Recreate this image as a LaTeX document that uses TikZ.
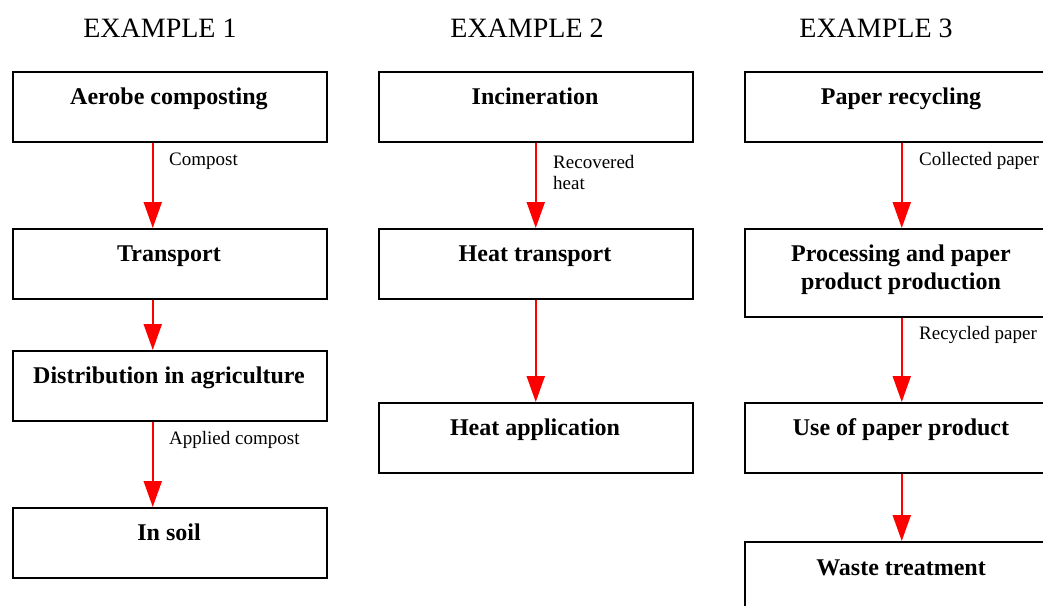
\documentclass[tikz,border=0pt]{standalone}
\usepackage{fontspec}
\setmainfont{Liberation Serif}
\usetikzlibrary{arrows.meta}
\tikzset{
  box/.style={draw=black, line width=1.5pt, rectangle, minimum width=314pt, minimum height=70pt, inner sep=0pt, anchor=north west},
  boxtxt/.style={anchor=base, inner sep=0pt, align=center, font=\fontsize{24}{28}\selectfont\bfseries},
  lbl/.style={anchor=west, inner sep=0pt, align=left, font=\fontsize{19}{21}\selectfont},
  ttl/.style={inner sep=0pt, font=\fontsize{28}{32}\selectfont},
  arr/.style={draw=red, line width=2pt, -{Triangle[length=26pt, width=18pt]}, red}
}
\begin{document}
\begin{tikzpicture}[x=1pt, y=-1pt]
\useasboundingbox (0,0) rectangle (1043,605);
\clip (0,0) rectangle (1043,605);
% titles
\node[ttl] (t1) at (160,28) {EXAMPLE 1};
\node[ttl] (t2) at (527,28) {EXAMPLE 2};
\node[ttl] (t3) at (876,28) {EXAMPLE 3};
% column 1
\node[box] (a1) at (12,71) {};
\node[box] (a2) at (12,228) {};
\node[box] (a3) at (12,350) {};
\node[box] (a4) at (12,507) {};
\node[boxtxt] (a1t) at (169,104) {Aerobe composting};
\node[boxtxt] (a2t) at (169,261) {Transport};
\node[boxtxt] (a3t) at (169,383) {Distribution in agriculture};
\node[boxtxt] (a4t) at (169,540) {In soil};
\draw[arr] ([xshift=-17pt]a1.south) -- ([xshift=-17pt]a2.north);
\draw[arr] ([xshift=-17pt]a2.south) -- ([xshift=-17pt]a3.north);
\draw[arr] ([xshift=-17pt]a3.south) -- ([xshift=-17pt]a4.north);
\node[lbl] (l1) at (169,161) {Compost};
\node[lbl] (l2) at (169,440) {Applied compost};
% column 2
\node[box] (b1) at (378,71) {};
\node[box] (b2) at (378,228) {};
\node[box] (b3) at (378,402) {};
\node[boxtxt] (b1t) at (535,104) {Incineration};
\node[boxtxt] (b2t) at (535,261) {Heat transport};
\node[boxtxt] (b3t) at (535,435) {Heat application};
\draw[arr] (b1.south) -- (b2.north);
\draw[arr] (b2.south) -- (b3.north);
\node[lbl] (l3) at (553,172.5) {Recovered\\heat};
% column 3
\node[box] (c1) at (744,71) {};
\node[box, minimum height=88pt] (c2) at (744,228) {};
\node[box] (c3) at (744,402) {};
\node[box] (c4) at (744,541) {};
\node[boxtxt] (c1t) at (901,104) {Paper recycling};
\node[boxtxt] (c2t) at (901,289) {Processing and paper\\product production};
\node[boxtxt] (c3t) at (901,435) {Use of paper product};
\node[boxtxt] (c4t) at (901,575) {Waste treatment};
\draw[arr] (c1.south) -- (c2.north);
\draw[arr] (c2.south) -- (c3.north);
\draw[arr] (c3.south) -- (c4.north);
\node[lbl] (l4) at (919,161) {Collected paper};
\node[lbl] (l5) at (919,335) {Recycled paper};
\end{tikzpicture}
\end{document}
